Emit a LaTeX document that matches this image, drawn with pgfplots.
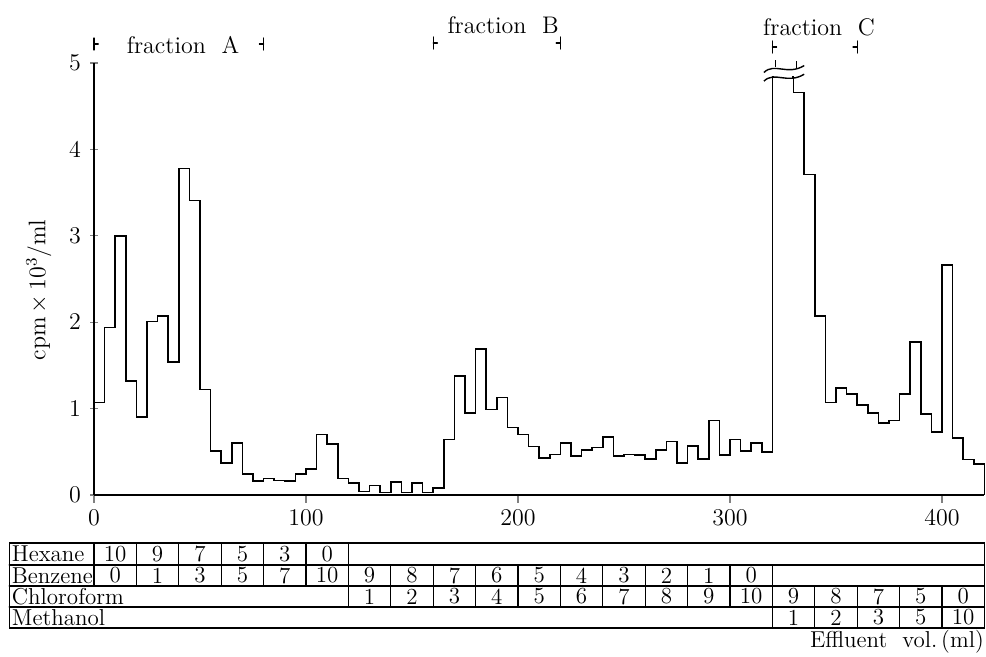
\documentclass[border=0pt]{standalone}
\usepackage{pgfplots}
\pgfplotsset{compat=1.18}

% effluent volume (ml, start of each 5 ml fraction) vs cpm x 10^3/ml
\pgfplotstableread{
vol  cpm
0    1.07
5    1.94
10   3.00
15   1.32
20   0.90
25   2.01
30   2.07
35   1.54
40   3.78
45   3.41
50   1.22
55   0.51
60   0.37
65   0.60
70   0.24
75   0.16
80   0.19
85   0.17
90   0.16
95   0.24
100  0.30
105  0.70
110  0.59
115  0.19
120  0.14
125  0.04
130  0.11
135  0.03
140  0.15
145  0.03
150  0.14
155  0.03
160  0.08
165  0.64
170  1.38
175  0.95
180  1.69
185  0.99
190  1.13
195  0.78
200  0.70
205  0.56
210  0.43
215  0.47
220  0.60
225  0.45
230  0.52
235  0.55
240  0.67
245  0.45
250  0.47
255  0.46
260  0.42
265  0.52
270  0.62
275  0.37
280  0.57
285  0.42
290  0.86
295  0.46
300  0.64
305  0.51
310  0.60
315  0.50
320  4.84
325  4.84
330  4.66
335  3.71
340  2.07
345  1.07
350  1.24
355  1.17
360  1.04
365  0.95
370  0.83
375  0.86
380  1.17
385  1.77
390  0.94
395  0.73
400  2.66
405  0.66
410  0.41
415  0.36
420  0
}\profile

\begin{document}
\begin{tikzpicture}[line cap=round]
\useasboundingbox (0,0) rectangle (493pt,328.5pt);
\begin{axis}[
  at={(47pt,81pt)}, anchor=south west,
  scale only axis, width=445.2pt, height=216pt,
  xmin=0, xmax=420, ymin=0, ymax=5,
  axis x line=bottom, axis y line=left,
  axis line style={-, line width=0.8pt},
  xtick={0,100,200,300,400}, ytick={0,1,2,3,4,5},
  x tick style={line width=0.6pt}, y tick style={line width=0.6pt},
  xtick align=outside, ytick align=center,
  major tick length=4pt,
  tick label style={font=\fontsize{12.5}{14}\selectfont},
  yticklabel style={xshift=-1pt},
  ylabel={cpm$\,\times\,$10$^3$/ml},
  ylabel style={at={(axis description cs:-0.062,0.475)}, anchor=center,
    font=\fontsize{12}{14}\selectfont},
  clip=false,
]
\addplot[const plot, black, line width=0.8pt] table[x=vol, y=cpm] {\profile};
% broken top of the off-scale peak
\draw[white, line width=2pt] (axis cs:320.6,4.84) -- (axis cs:329.4,4.84);
\draw[line width=0.7pt] (axis cs:316,4.79) .. controls (axis cs:321,4.91) and (axis cs:327,4.75) .. (axis cs:335,4.87);
\draw[line width=0.7pt] (axis cs:316,4.89) .. controls (axis cs:321,5.01) and (axis cs:327,4.85) .. (axis cs:335,4.97);
\draw[line width=0.7pt] (axis cs:321.5,4.95) -- (axis cs:321.5,5.04);
\draw[line width=0.7pt] (axis cs:331.5,4.93) -- (axis cs:331.5,5.02);
\end{axis}

% fraction brackets and solvent table; x in ml, y in px above the baseline
\begin{scope}[shift={(47pt,81pt)}, x=1.06pt, y=0.5pt, line width=0.6pt]
  \foreach \a/\b/\h in {0/80/451, 160/220/452, 320/360/448} {
    \draw (\a,\h-6) -- (\a,\h+6) (\a,\h) -- (\a+2,\h);
    \draw (\b,\h-6) -- (\b,\h+6) (\b,\h) -- (\b-2,\h);
  }
  \node[font=\fontsize{12}{14}\selectfont] at (42,450) {fraction\ \ A};
  \node[font=\fontsize{12}{14}\selectfont] at (193,470) {fraction\ \ B};
  \node[font=\fontsize{12}{14}\selectfont] at (342,468) {fraction\ \ C};

  \draw[line width=0.7pt] (-40,-48) rectangle (420,-133);
  \foreach \y in {-70,-91,-112} \draw (-40,\y) -- (420,\y);
  \foreach \x in {0,20,...,100} \draw (\x,-48) -- (\x,-91);
  \draw (120,-48) -- (120,-112);
  \foreach \x in {140,160,...,300} \draw (\x,-70) -- (\x,-112);
  \draw (320,-70) -- (320,-133);
  \foreach \x in {340,360,...,400} \draw (\x,-91) -- (\x,-133);

  \begin{scope}[every node/.style={font=\fontsize{11.5}{13}\selectfont, inner sep=0pt}]
    \node[anchor=west] at (-39,-59) {Hexane};
    \node[anchor=west] at (-39,-80.5) {Benzene};
    \node[anchor=west] at (-39,-101.5) {Chloroform};
    \node[anchor=west] at (-39,-122.5) {Methanol};
    \foreach \x/\v in {10/10,30/9,50/7,70/5,90/3,110/0}
      \node at (\x,-59) {\v};
    \foreach \x/\v in {10/0,30/1,50/3,70/5,90/7,110/10,130/9,150/8,170/7,190/6,
                       210/5,230/4,250/3,270/2,290/1,310/0}
      \node at (\x,-80.5) {\v};
    \foreach \x/\v in {130/1,150/2,170/3,190/4,210/5,230/6,250/7,270/8,290/9,310/10,
                       330/9,350/8,370/7,390/5,410/0}
      \node at (\x,-101.5) {\v};
    \foreach \x/\v in {330/1,350/2,370/3,390/5,410/10}
      \node at (\x,-122.5) {\v};
    \node[anchor=east] at (420,-147) {Effluent\ \ vol.\,(ml)};
  \end{scope}
\end{scope}
\end{tikzpicture}
\end{document}
